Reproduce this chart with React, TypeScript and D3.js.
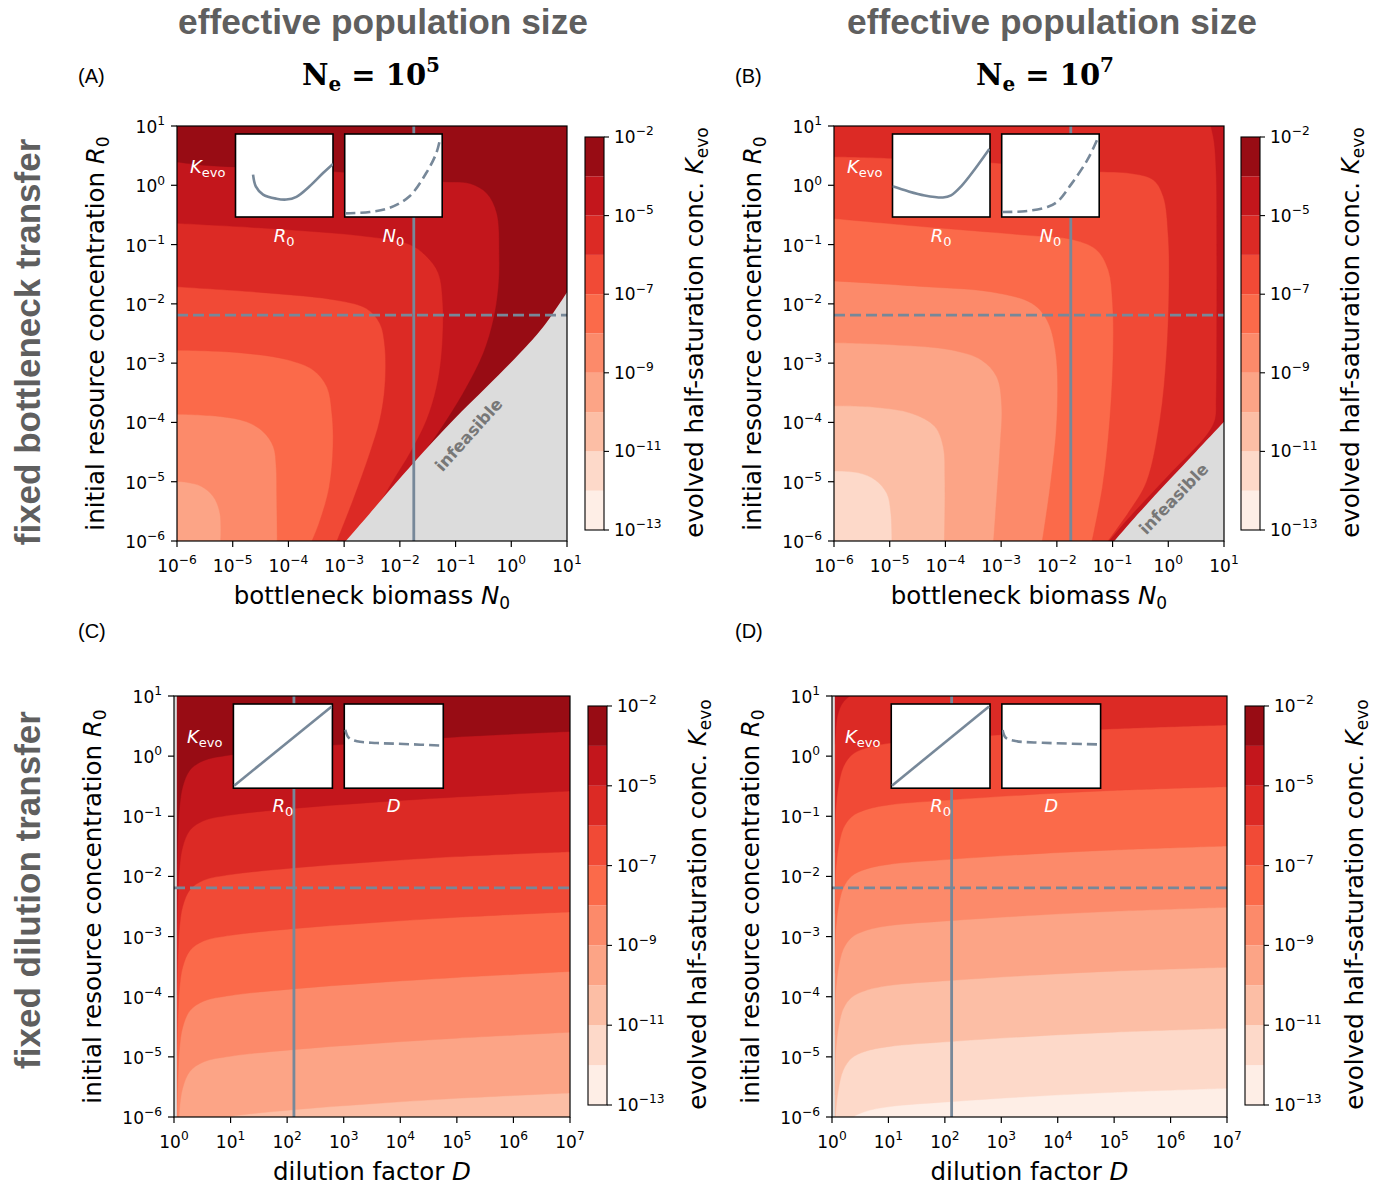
import React from 'react';
import * as d3 from 'd3';

type Pt = [number, number];
type Bound = { lvl: number; pts: Pt[] };

// ---------- colour levels (log10 K_evo) ----------
const BAND_COLORS = ['#feeee6', '#fdd9c9', '#fcbea5', '#fca486', '#fc8a6a', '#fb6a4a', '#f14a36', '#dc2a25', '#c3161c', '#980c14'];
const LEVEL_EXPS = [-13, -12, -11, -10, -9, -8, -7, -6, -5, -3.5, -2];
const CB_TICK_EXPS = [-13, -11, -9, -7, -5, -2];

// ---------- axes ----------
const R0_TICKS = [-6, -5, -4, -3, -2, -1, 0, 1];
const N0_TICKS = [-6, -5, -4, -3, -2, -1, 0, 1];
const D_TICKS = [0, 1, 2, 3, 4, 5, 6, 7];
const NE_EXPONENTS = [5, 7];

// reference markers (log10)
const R0_MARK = -2.19;
const N0_MARK = -1.75;
const D_MARK = 2.12;

// ---------- panel A: bottleneck, Ne=1e5  [log10 N0, log10 R0] ----------
const A_BASE = 3;
const A_BOUNDS: Bound[] = [
  { lvl: 4, pts: [[-6.05, -4.99], [-5.83, -5.01], [-5.56, -5.08], [-5.35, -5.25], [-5.23, -5.53], [-5.22, -6.05]] },
  { lvl: 5, pts: [[-6.05, -3.86], [-5.23, -3.9], [-4.75, -3.99], [-4.45, -4.16], [-4.27, -4.41], [-4.22, -4.75], [-4.21, -5.25], [-4.2, -6.05]] },
  { lvl: 6, pts: [[-6.05, -2.78], [-4.93, -2.82], [-4.03, -2.94], [-3.55, -3.12], [-3.31, -3.4], [-3.22, -3.85], [-3.2, -4.41], [-3.27, -5.1], [-3.45, -5.7], [-3.6, -6.05]] },
  { lvl: 7, pts: [[-6.05, -1.71], [-4.33, -1.82], [-3.13, -1.94], [-2.6, -2.08], [-2.36, -2.33], [-2.27, -2.72], [-2.27, -3.4], [-2.36, -3.96], [-2.54, -4.52], [-2.84, -5.31], [-3.15, -6.05]] },
  { lvl: 8, pts: [[-6.05, -0.64], [-4.33, -0.73], [-2.54, -0.87], [-1.82, -1.0], [-1.52, -1.2], [-1.31, -1.48], [-1.23, -1.99], [-1.25, -2.83], [-1.34, -3.4], [-1.52, -3.96], [-1.82, -4.52], [-2.1, -4.95], [-2.35, -5.35], [-2.8, -6.05]] },
  { lvl: 9, pts: [[-6.05, 0.4], [-5.53, 0.34], [-4.96, 0.31], [-4, 0.27], [-3, 0.22], [-2, 0.14], [-1.22, 0.06], [-0.74, 0.03], [-0.44, -0.135], [-0.26, -0.47], [-0.215, -1.15], [-0.23, -1.71], [-0.32, -2.27], [-0.5, -2.83], [-0.8, -3.4], [-1.16, -3.96], [-1.58, -4.52], [-1.76, -4.69], [-2.0, -5.1], [-2.5, -6.05]] },
];
const A_INFEASIBLE: Pt[] = [[-3.015, -6.05], [-2.536, -5.53], [-1.76, -4.69], [-1.04, -3.96], [-0.44, -3.4], [0.157, -2.83], [0.575, -2.385], [1.05, -1.73]];

// ---------- panel B: bottleneck, Ne=1e7 ----------
const B_BASE = 1;
const B_BOUNDS: Bound[] = [
  { lvl: 2, pts: [[-6.05, -4.82], [-5.56, -4.85], [-5.26, -4.97], [-5.05, -5.2], [-4.98, -5.53], [-4.96, -6.05]] },
  { lvl: 3, pts: [[-6.05, -3.72], [-5.26, -3.745], [-4.6, -3.85], [-4.19, -4.07], [-4.04, -4.41], [-4.01, -4.97], [-4.02, -6.05]] },
  { lvl: 4, pts: [[-6.05, -2.655], [-4.96, -2.69], [-3.89, -2.78], [-3.35, -2.95], [-3.08, -3.23], [-2.99, -3.73], [-3.02, -4.41], [-3.08, -5.25], [-3.14, -6.05]] },
  { lvl: 5, pts: [[-6.05, -1.61], [-4.37, -1.71], [-3.17, -1.8], [-2.45, -1.99], [-2.18, -2.27], [-2.02, -2.83], [-2.0, -3.96], [-2.12, -5.08], [-2.27, -6.05]] },
  { lvl: 6, pts: [[-6.05, -0.557], [-4.37, -0.7], [-2.57, -0.84], [-1.7, -0.92], [-1.285, -1.09], [-1.076, -1.43], [-1.0, -1.99], [-0.99, -2.83], [-1.05, -3.96], [-1.18, -5.08], [-1.38, -6.05]] },
  { lvl: 7, pts: [[-6.05, 0.482], [-4.96, 0.455], [-3.5, 0.4], [-2.5, 0.33], [-1.6, 0.26], [-1.225, 0.229], [-0.687, 0.202], [-0.268, 0.09], [-0.09, -0.19], [0.0, -0.87], [0.013, -1.71], [-0.03, -2.83], [-0.15, -3.96], [-0.39, -5.0], [-0.7, -5.5], [-1.12, -6.05]] },
  { lvl: 8, pts: [[0.75, 1.05], [0.82, 0.75], [0.86, 0.2], [0.87, -1.0], [0.87, -2.5], [0.86, -3.6], [0.84, -3.95], [0.7, -4.2], [0.0, -4.9], [-0.8, -5.71], [-1.1, -6.05]] },
];
const B_INFEASIBLE: Pt[] = [[-1.015, -6.05], [-0.5, -5.5], [0.0, -4.99], [0.5, -4.49], [1.05, -3.94]];

// ---------- panel C: dilution, Ne=1e5  [log10 D, log10 R0] ----------
const C_BASE = 2;
const C_BOUNDS: Bound[] = [
  { lvl: 3, pts: [[0.05, -7.99], [0.07, -7.35], [0.094, -6.9], [0.153, -6.52], [0.283, -6.24], [0.52, -6.085], [1, -5.99], [2.1, -5.88], [3.5, -5.78], [5, -5.69], [7, -5.6]] },
  { lvl: 4, pts: [[0.05, -6.99], [0.07, -6.35], [0.094, -5.9], [0.153, -5.52], [0.283, -5.24], [0.52, -5.085], [1, -4.99], [2.1, -4.88], [3.5, -4.78], [5, -4.69], [7, -4.59]] },
  { lvl: 5, pts: [[0.05, -5.98], [0.07, -5.34], [0.094, -4.89], [0.153, -4.51], [0.283, -4.23], [0.52, -4.075], [1, -3.98], [2.1, -3.87], [3.5, -3.77], [5, -3.68], [7, -3.58]] },
  { lvl: 6, pts: [[0.05, -4.98], [0.07, -4.34], [0.094, -3.89], [0.153, -3.51], [0.283, -3.23], [0.52, -3.075], [1, -2.98], [2.1, -2.87], [3.5, -2.77], [5, -2.68], [7, -2.59]] },
  { lvl: 7, pts: [[0.05, -3.97], [0.07, -3.33], [0.094, -2.88], [0.153, -2.5], [0.283, -2.22], [0.52, -2.065], [1, -1.97], [2.1, -1.86], [3.5, -1.76], [5, -1.67], [7, -1.59]] },
  { lvl: 8, pts: [[0.05, -2.98], [0.07, -2.34], [0.094, -1.89], [0.153, -1.51], [0.283, -1.23], [0.52, -1.075], [1, -0.98], [2.1, -0.87], [3.5, -0.77], [5, -0.68], [7, -0.58]] },
  { lvl: 9, pts: [[0.05, -1.98], [0.07, -1.34], [0.094, -0.89], [0.153, -0.51], [0.283, -0.23], [0.52, -0.075], [1, 0.02], [2.1, 0.13], [3.5, 0.23], [5, 0.32], [7, 0.41]] },
];

// ---------- panel D: dilution, Ne=1e7 ----------
const D_BASE = 0;
const D_BOUNDS: Bound[] = [
  { lvl: 1, pts: [[0.05, -7.64], [0.065, -6.94], [0.112, -6.55], [0.2, -6.22], [0.349, -6.02], [0.585, -5.91], [1, -5.83], [2.1, -5.745], [3.5, -5.66], [5, -5.59], [7, -5.524]] },
  { lvl: 2, pts: [[0.05, -6.64], [0.065, -5.94], [0.112, -5.55], [0.2, -5.22], [0.349, -5.02], [0.585, -4.91], [1, -4.83], [2.1, -4.745], [3.5, -4.66], [5, -4.59], [7, -4.526]] },
  { lvl: 3, pts: [[0.05, -5.63], [0.065, -4.93], [0.112, -4.53], [0.2, -4.2], [0.349, -4.01], [0.585, -3.9], [1, -3.815], [2.1, -3.73], [3.5, -3.645], [5, -3.575], [7, -3.511]] },
  { lvl: 4, pts: [[0.05, -4.63], [0.065, -3.93], [0.112, -3.54], [0.2, -3.21], [0.349, -3.014], [0.585, -2.903], [1, -2.82], [2.1, -2.735], [3.5, -2.65], [5, -2.58], [7, -2.514]] },
  { lvl: 5, pts: [[0.05, -3.61], [0.065, -2.91], [0.112, -2.52], [0.2, -2.19], [0.349, -1.994], [0.585, -1.883], [1, -1.8], [2.1, -1.715], [3.5, -1.63], [5, -1.56], [7, -1.494]] },
  { lvl: 6, pts: [[0.05, -2.62], [0.065, -1.92], [0.112, -1.53], [0.2, -1.2], [0.349, -1.006], [0.585, -0.895], [1, -0.812], [2.1, -0.727], [3.5, -0.64], [5, -0.57], [7, -0.508]] },
  { lvl: 7, pts: [[0.05, -1.6], [0.065, -0.9], [0.112, -0.51], [0.2, -0.18], [0.349, 0.02], [0.585, 0.13], [1, 0.213], [2.1, 0.3], [3.5, 0.385], [5, 0.455], [7, 0.518]] },
  { lvl: 8, pts: [[0.05, 0.2], [0.065, 0.4], [0.083, 0.6], [0.112, 0.72], [0.171, 0.86], [0.25, 0.95], [0.35, 1.02], [0.6, 1.12], [1, 1.2], [7, 1.5]] },
];
const DILUTION_INFEASIBLE_MAX = 0.05; // log10 D

// ---------- inset sketches (normalised 0..1 inside inset box, y up) ----------
const INSET_A_R0: Pt[] = [[0.18, 0.51], [0.208, 0.37], [0.283, 0.27], [0.42, 0.22], [0.52, 0.21], [0.625, 0.243], [0.76, 0.37], [0.898, 0.53], [1.0, 0.64]];
const INSET_A_N0: Pt[] = [[0.007, 0.044], [0.256, 0.06], [0.46, 0.11], [0.665, 0.25], [0.836, 0.53], [0.94, 0.77], [0.98, 0.95]];
const INSET_B_R0: Pt[] = [[0.0, 0.37], [0.16, 0.31], [0.33, 0.26], [0.517, 0.235], [0.6, 0.26], [0.704, 0.37], [0.84, 0.57], [0.993, 0.82]];
const INSET_B_N0: Pt[] = [[0.007, 0.06], [0.24, 0.07], [0.475, 0.124], [0.576, 0.19], [0.71, 0.39], [0.88, 0.69], [0.99, 0.96]];
const INSET_C_R0: Pt[] = [[0.007, 0.03], [0.993, 0.97]];
const INSET_C_D: Pt[] = [[0.01, 0.694], [0.044, 0.6], [0.128, 0.557], [0.33, 0.537], [0.6, 0.525], [0.993, 0.506]];
const INSET_D_R0: Pt[] = [[0.007, 0.03], [0.99, 0.97]];
const INSET_D_D: Pt[] = [[0.007, 0.69], [0.04, 0.6], [0.14, 0.56], [0.41, 0.54], [0.99, 0.52]];

// ---------- style ----------
const GREY = '#dcdcdc';
const SLATE = '#778899';
const FONT = 'DejaVu Sans, sans-serif';
const TFONT = 'Liberation Sans, Arial, sans-serif';
const LABEL_SIZE = 24.5;

interface PanelCfg {
  id: string;
  letter: string;
  letterPos: [number, number];
  kind: 'bottleneck' | 'dilution';
  x0: number; y0: number; w: number; h: number;
  xDom: [number, number];
  xTicks: number[];
  base: number;
  bounds: Bound[];
  infeasible?: Pt[];
  inf?: { at: Pt; angle: number };
  inset1: Pt[];
  inset2: Pt[];
  cbX: number; cbY0: number; cbY1: number;
}

const PANELS: PanelCfg[] = [
  { id: 'A', letter: '(A)', letterPos: [78, 83], kind: 'bottleneck', x0: 177, y0: 126, w: 390, h: 415, xDom: [-6, 1], xTicks: N0_TICKS, base: A_BASE, bounds: A_BOUNDS, infeasible: A_INFEASIBLE, inf: { at: [-0.76, -4.21], angle: -48 }, inset1: INSET_A_R0, inset2: INSET_A_N0, cbX: 585, cbY0: 137, cbY1: 530 },
  { id: 'B', letter: '(B)', letterPos: [735, 83], kind: 'bottleneck', x0: 834, y0: 126, w: 390, h: 415, xDom: [-6, 1], xTicks: N0_TICKS, base: B_BASE, bounds: B_BOUNDS, infeasible: B_INFEASIBLE, inf: { at: [0.1, -5.29], angle: -46 }, inset1: INSET_B_R0, inset2: INSET_B_N0, cbX: 1241, cbY0: 137, cbY1: 530 },
  { id: 'C', letter: '(C)', letterPos: [78, 638], kind: 'dilution', x0: 174, y0: 696, w: 396, h: 421, xDom: [0, 7], xTicks: D_TICKS, base: C_BASE, bounds: C_BOUNDS, inset1: INSET_C_R0, inset2: INSET_C_D, cbX: 588, cbY0: 706, cbY1: 1105 },
  { id: 'D', letter: '(D)', letterPos: [735, 638], kind: 'dilution', x0: 832, y0: 696, w: 395, h: 421, xDom: [0, 7], xTicks: D_TICKS, base: D_BASE, bounds: D_BOUNDS, inset1: INSET_D_R0, inset2: INSET_D_D, cbX: 1245, cbY0: 706, cbY1: 1105 },
];

const fmtExp = (e: number) => (e < 0 ? '\u2212' + Math.abs(e) : String(e));

function Pow({ x, y, exp, anchor, size = 17 }: { x: number; y: number; exp: number; anchor: string; size?: number }) {
  return (
    <text x={x} y={y} textAnchor={anchor as any} fontFamily={FONT} fontSize={size} fill="#000">
      10<tspan dy={-size * 0.45} fontSize={size * 0.72}>{fmtExp(exp)}</tspan>
    </text>
  );
}

function Panel({ cfg }: { cfg: PanelCfg }) {
  const { x0, y0, w, h } = cfg;
  const sx = d3.scaleLog().domain([Math.pow(10, cfg.xDom[0]), Math.pow(10, cfg.xDom[1])]).range([x0, x0 + w]);
  const sy = d3.scaleLog().domain([1e-6, 1e1]).range([y0 + h, y0]);
  const X = (e: number) => sx(Math.pow(10, e));
  const Y = (e: number) => sy(Math.pow(10, e));
  const line = d3.line<Pt>().x((d) => X(d[0])).y((d) => Y(d[1])).curve(d3.curveCatmullRom.alpha(0.5));
  const L = (p: Pt) => `L${X(p[0])},${Y(p[1])}`;

  const regionPath = (pts: Pt[]) => {
    const first = pts[0];
    const last = pts[pts.length - 1];
    const closing: Pt[] = cfg.kind === 'bottleneck'
      ? [[3, -8], [3, 3], [-8, 3], [-8, first[1]]]
      : [[9, last[1]], [9, 3], [-1, 3], [-1, first[1]]];
    return (line(pts) || '') + closing.map(L).join('') + 'Z';
  };

  let infPath = '';
  if (cfg.infeasible) {
    const pts = cfg.infeasible;
    const last = pts[pts.length - 1];
    infPath = (line(pts) || '') + L([3, last[1]]) + L([3, -8]) + L([pts[0][0], -8]) + 'Z';
  }

  const clipId = `clip-${cfg.id}`;
  const ix1 = x0 + 0.15 * w;
  const ix2 = x0 + 0.43 * w;
  const iw = 0.25 * w;
  const iy = y0 + 8;
  const ih = 0.2 * h;
  const yb = y0 + h;

  const insetLine = (ix: number) => {
    const ax = d3.scaleLinear().domain([0, 1]).range([ix, ix + iw]);
    const ay = d3.scaleLinear().domain([0, 1]).range([iy + ih, iy]);
    return d3.line<Pt>().x((d) => ax(d[0])).y((d) => ay(d[1])).curve(d3.curveCatmullRom.alpha(0.5));
  };

  const cbScale = d3.scalePoint<number>().domain(LEVEL_EXPS).range([cfg.cbY1, cfg.cbY0]);
  const cbW = 19;
  const cbR = cfg.cbX + cbW;

  const xMarkVal = cfg.kind === 'bottleneck' ? N0_MARK : D_MARK;
  const label2 = cfg.kind === 'bottleneck' ? 'N' : 'D';
  const midY = y0 + h / 2;

  return (
    <g>
      <defs>
        <clipPath id={clipId}>
          <rect x={x0} y={y0} width={w} height={h} />
        </clipPath>
        <clipPath id={`${clipId}-i1`}><rect x={ix1} y={iy} width={iw} height={ih} /></clipPath>
        <clipPath id={`${clipId}-i2`}><rect x={ix2} y={iy} width={iw} height={ih} /></clipPath>
      </defs>
      <g clipPath={`url(#${clipId})`}>
        <rect x={x0} y={y0} width={w} height={h} fill={BAND_COLORS[cfg.base]} />
        {cfg.bounds.map((b, i) => (
          <path key={i} d={regionPath(b.pts)} fill={BAND_COLORS[b.lvl]} stroke={BAND_COLORS[b.lvl]} strokeWidth={0.4} />
        ))}
        {cfg.infeasible && <path d={infPath} fill={GREY} />}
        {cfg.kind === 'dilution' && (
          <rect x={x0 - 5} y={y0} width={X(DILUTION_INFEASIBLE_MAX) - x0 + 5} height={h} fill={GREY} />
        )}
        {cfg.inf && (
          <text x={X(cfg.inf.at[0])} y={Y(cfg.inf.at[1])} transform={`rotate(${cfg.inf.angle},${X(cfg.inf.at[0])},${Y(cfg.inf.at[1])})`}
            textAnchor="middle" dominantBaseline="central" fontFamily={FONT} fontWeight="bold" fontSize={16.5} fill="#777">infeasible</text>
        )}
        <line x1={x0} x2={x0 + w} y1={Y(R0_MARK)} y2={Y(R0_MARK)} stroke={SLATE} strokeWidth={2.8} strokeDasharray="11,5" />
        <line x1={X(xMarkVal)} x2={X(xMarkVal)} y1={y0} y2={yb} stroke={SLATE} strokeWidth={2.8} />
      </g>
      {/* insets */}
      {[{ ix: ix1, pts: cfg.inset1, dashed: false, k: 'i1' }, { ix: ix2, pts: cfg.inset2, dashed: true, k: 'i2' }].map((s) => (
        <g key={s.k}>
          <rect x={s.ix} y={iy} width={iw} height={ih} fill="#fff" stroke="#000" strokeWidth={1.6} />
          <path d={insetLine(s.ix)(s.pts) || ''} fill="none" stroke={SLATE} strokeWidth={2.6}
            strokeDasharray={s.dashed ? '10,5' : undefined} clipPath={`url(#${clipId}-${s.k})`} />
        </g>
      ))}
      <text x={ix1 + iw / 2} y={y0 + 116} textAnchor="middle" fill="#fff" fontFamily={FONT} fontSize={18}>
        <tspan fontStyle="italic">R</tspan><tspan fontSize={13} dy={4}>0</tspan>
      </text>
      <text x={ix2 + iw / 2} y={y0 + 116} textAnchor="middle" fill="#fff" fontFamily={FONT} fontSize={18}>
        <tspan fontStyle="italic">{label2}</tspan>{label2 === 'N' && <tspan fontSize={13} dy={4}>0</tspan>}
      </text>
      <text x={x0 + 13} y={y0 + 47} fill="#fff" fontFamily={FONT} fontSize={18}>
        <tspan fontStyle="italic">K</tspan><tspan fontSize={13} dy={4}>evo</tspan>
      </text>
      {/* frame */}
      <rect x={x0} y={y0} width={w} height={h} fill="none" stroke="#000" strokeWidth={1.2} />
      {/* y ticks */}
      {R0_TICKS.map((e) => (
        <g key={`y${e}`}>
          <line x1={x0 - 6} x2={x0} y1={Y(e)} y2={Y(e)} stroke="#000" strokeWidth={1.2} />
          <Pow x={x0 - 12} y={Y(e) + 7} exp={e} anchor="end" />
        </g>
      ))}
      {cfg.xTicks.map((e) => (
        <g key={`x${e}`}>
          <line x1={X(e)} x2={X(e)} y1={yb} y2={yb + 6} stroke="#000" strokeWidth={1.2} />
          <Pow x={X(e)} y={yb + 31} exp={e} anchor="middle" />
        </g>
      ))}
      {/* axis labels */}
      <text x={x0 + w / 2} y={yb + 63} textAnchor="middle" fontFamily={FONT} fontSize={LABEL_SIZE}>
        {cfg.kind === 'bottleneck' ? (
          <>bottleneck biomass <tspan fontStyle="italic">N</tspan><tspan fontSize={17} dy={5}>0</tspan></>
        ) : (
          <>dilution factor <tspan fontStyle="italic">D</tspan></>
        )}
      </text>
      <text transform={`translate(${x0 - 73},${midY}) rotate(-90)`} textAnchor="middle" fontFamily={FONT} fontSize={LABEL_SIZE}>
        initial resource concentration <tspan fontStyle="italic">R</tspan><tspan fontSize={17} dy={5}>0</tspan>
      </text>
      {/* colorbar */}
      {BAND_COLORS.map((c, i) => {
        const yTop = cbScale(LEVEL_EXPS[i + 1])!;
        const yBot = cbScale(LEVEL_EXPS[i])!;
        return <rect key={`cb${i}`} x={cfg.cbX} y={yTop} width={cbW} height={yBot - yTop} fill={c} />;
      })}
      <rect x={cfg.cbX} y={cfg.cbY0} width={cbW} height={cfg.cbY1 - cfg.cbY0} fill="none" stroke="#000" strokeWidth={1.1} />
      {CB_TICK_EXPS.map((e) => (
        <g key={`cbt${e}`}>
          <line x1={cbR} x2={cbR + 5} y1={cbScale(e)!} y2={cbScale(e)!} stroke="#000" strokeWidth={1.1} />
          <Pow x={cbR + 10} y={cbScale(e)! + 6} exp={e} anchor="start" />
        </g>
      ))}
      <text transform={`translate(${cbR + 99},${(cfg.cbY0 + cfg.cbY1) / 2 - 1}) rotate(-90)`} textAnchor="middle" fontFamily={FONT} fontSize={LABEL_SIZE}>
        evolved half-saturation conc. <tspan fontStyle="italic">K</tspan><tspan fontSize={17} dy={5}>evo</tspan>
      </text>
      {/* panel letter */}
      <text x={cfg.letterPos[0]} y={cfg.letterPos[1]} fontFamily={TFONT} fontSize={20}>{cfg.letter}</text>
    </g>
  );
}

export default function App() {
  const colCenters = [383, 1052];
  const mathCenters = [371, 1045];
  return (
    <svg width={1380} height={1186} style={{ position: 'absolute', left: 0, top: 0, background: '#fff' }}>
      <rect x={0} y={0} width={1380} height={1186} fill="#fff" />
      {colCenters.map((cx, i) => (
        <text key={`t${i}`} x={cx} y={34} textAnchor="middle" fontFamily={TFONT} fontWeight="bold" fontSize={35.3} fill="#5f5f5f">
          effective population size
        </text>
      ))}
      {mathCenters.map((cx, i) => (
        <text key={`m${i}`} x={cx} y={85} textAnchor="middle" fontFamily="DejaVu Serif, serif" fontWeight="bold" fontSize={29} fill="#000">
          N<tspan fontSize={20} dy={6}>e</tspan><tspan dy={-6}> = 10</tspan><tspan fontSize={20} dy={-13}>{NE_EXPONENTS[i]}</tspan>
        </text>
      ))}
      <text transform="translate(40,342) rotate(-90)" textAnchor="middle" fontFamily={TFONT} fontWeight="bold" fontSize={35} fill="#5f5f5f">
        fixed bottleneck transfer
      </text>
      <text transform="translate(40,890) rotate(-90)" textAnchor="middle" fontFamily={TFONT} fontWeight="bold" fontSize={35} fill="#5f5f5f">
        fixed dilution transfer
      </text>
      {PANELS.map((p) => (
        <Panel key={p.id} cfg={p} />
      ))}
    </svg>
  );
}
